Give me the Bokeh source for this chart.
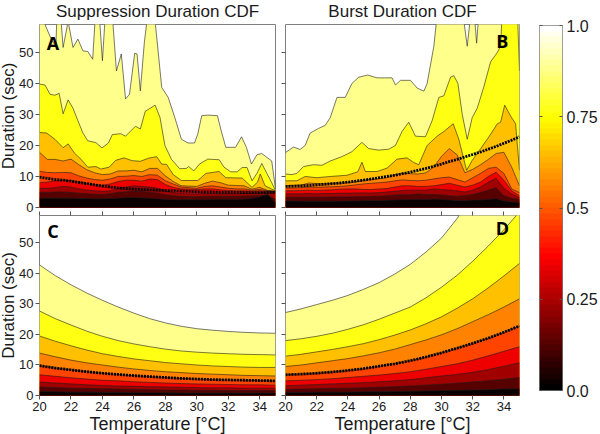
from bokeh.plotting import figure
from bokeh.layouts import row, column
from bokeh.models import Range1d, LinearAxis, FixedTicker, Label, LinearColorMapper, CustomLabelingPolicy
from bokeh.embed import file_html
from bokeh.resources import INLINE
import numpy as np

FONT = "Liberation Sans"
TEMP_TICKS = [20, 22, 24, 26, 28, 30, 32, 34]
DUR_TICKS = [0, 10, 20, 30, 40, 50]
BAR_TICKS = [0.0, 0.25, 0.5, 0.75, 1.0]
BAR_LABELS = {0.0: "0.0", 0.25: "0.25", 0.5: "0.5", 0.75: "0.75", 1.0: "1.0"}

# colours from the highest band to the lowest
BAND_COLORS = ["#ffff8c", "#ffff14", "#ffc000", "#ff8200", "#ff4400",
               "#ee0000", "#a00000", "#560000", "#0a0000"]

T_HALF = [20.0, 20.5, 21.0, 21.5, 22.0, 22.5, 23.0, 23.5, 24.0, 24.5, 25.0, 25.5, 26.0, 26.5, 27.0, 27.5,
          28.0, 28.5, 29.0, 29.5, 30.0, 30.5, 31.0, 31.5, 32.0, 32.5, 33.0, 33.5, 34.0, 34.5, 35.0]
T_WHOLE = [20, 21, 22, 23, 24, 25, 26, 27, 28, 29, 30, 31, 32, 33, 34, 35]

# ---- Panel A: suppression duration, measured
A9_T = [20.0, 20.35, 20.77, 21.04, 21.13, 21.3, 21.5, 21.82, 22.13, 22.44, 22.76, 23.07, 23.38, 23.55, 23.8, 24.0,
        24.18, 24.63, 24.89, 25.2, 25.47, 25.72, 26.05, 26.2, 26.41, 26.66, 26.87, 27.31, 27.77, 28.18, 28.6, 29.02,
        29.44, 29.85, 30.06, 30.31, 30.69, 31.31, 31.52, 31.84, 32.46, 32.84, 33.15, 33.47, 33.82, 34.13, 34.76, 35.0]
A9_V = [66, 59, 54, 52, 65, 65, 51.6, 60, 51.6, 54.3, 50.5, 50.3, 47.8, 62, 62, 47.3,
        62, 62, 44, 49.5, 35, 36.5, 49.7, 49.5, 37.6, 53, 62, 62, 38.7, 35.5, 29, 22,
        20.8, 20.8, 23.7, 29.6, 29.8, 29.6, 25.3, 19.4, 19.4, 22.8, 19.4, 14, 17, 17.4, 15, 6]
A8_T = [20.0, 20.35, 20.67, 20.98, 21.25, 21.5, 21.82, 22.13, 22.44, 22.76, 23.07, 23.59, 23.97, 24.38, 24.63, 25.16,
        25.47, 26.1, 26.41, 26.72, 27.35, 27.66, 27.97, 28.39, 28.91, 29.33, 29.48, 29.81, 30.17, 30.69, 31.42, 31.73,
        32.15, 32.57, 32.88, 33.19, 33.51, 33.82, 34.13, 34.45, 34.76, 35.0]
A8_V = [39.8, 39.5, 36.5, 36.2, 36.8, 30.2, 34.7, 32, 28, 24, 21.5, 20.9, 19.2, 20.8, 23.5, 23.8,
        23, 26.2, 25.3, 31, 33, 29, 20, 15.5, 12.5, 12.6, 13.2, 11.8, 14, 15.6, 15.4, 13,
        11.5, 11.5, 12.9, 12.9, 8.6, 11, 14.2, 11, 8, 5.5]
A7_T = [20.0, 20.46, 20.98, 21.5, 21.82, 22.23, 22.65, 23.07, 23.59, 23.9, 24.43, 24.84, 25.37, 25.89, 26.41, 26.93,
        27.45, 27.77, 28.08, 28.5, 29.02, 30.06, 30.58, 31.42, 31.84, 32.88, 33.51, 33.86, 34.03, 34.34, 35.0]
A7_V = [24.2, 24, 22, 19.3, 20.5, 17.5, 15.5, 13, 13.2, 12.4, 13, 15.2, 16, 15.1, 14.9, 15.9,
        16.4, 14, 13.9, 10.6, 8.7, 8.7, 11, 11.6, 9.6, 9.5, 6.5, 8.2, 10.8, 7, 5.4]
A6_V = [17.8, 15.5, 15.5, 15, 15.6, 13.8, 12.2, 11.2, 10.6, 10.8, 11.8, 11.8, 12, 11.5, 12.6, 12.6,
        10.2, 8.4, 7, 6.9, 6.8, 7.8, 8.5, 8, 7.2, 7.1, 7, 5.9, 6.5, 5.5, 5.3]
A5_V = [11.7, 11.3, 11.2, 11.3, 11.2, 10.2, 9.5, 9, 8.8, 9.2, 10, 10.1, 10.3, 10, 10.6, 10.4,
        8.6, 7.6, 6.6, 6.4, 6.2, 6.8, 7, 6.6, 6.2, 6, 6, 5.6, 5.8, 5.4, 5.2]
A4_V = [8, 8.2, 8.6, 8.8, 8.6, 8.2, 7.7, 7.4, 7.2, 7.6, 8.4, 8.8, 8.8, 8.5, 9.2, 9,
        7.4, 6.5, 6, 5.9, 5.8, 6, 6, 5.7, 5.5, 5.4, 5.4, 5.3, 5.4, 5.2, 5.1]
A3_V = [6.2, 6.2, 6.4, 6.8, 6.6, 6, 5.6, 5.4, 5.2, 5.4, 6.2, 6.6, 7, 6.8, 6.6, 6.2,
        5.3, 4.8, 4.5, 4.4, 4.4, 4.5, 4.5, 4.4, 4.4, 4.4, 4.5, 4.6, 4.7, 5, 5]
A2_V = [4.8, 4.8, 5, 5, 4.9, 4.6, 4.4, 4.3, 4.2, 4.4, 4.9, 5.1, 5.2, 5.2, 4.9, 4.6,
        4.1, 3.8, 3.6, 3.5, 3.5, 3.6, 3.6, 3.6, 3.6, 3.6, 3.7, 3.8, 3.9, 4, 2.6]
A1_V = [3, 3, 3, 3, 3, 2.9, 2.9, 2.8, 2.8, 2.9, 3, 3.2, 3.2, 3.1, 3, 2.8,
        2.6, 2.5, 2.5, 2.5, 2.5, 2.5, 2.6, 2.6, 2.6, 2.6, 2.7, 2.9, 3.4, 4.3, 1.5]
SUPP_MEDIAN = [9.8, 9.4, 9.0, 8.8, 8.5, 8.1, 7.7, 7.3, 6.9, 6.6, 6.3, 6.1, 5.9, 5.8, 5.7, 5.6,
               5.5, 5.4, 5.3, 5.2, 5.1, 5.0, 5.0, 4.9, 4.9, 4.9, 4.8, 4.8, 4.8, 4.8, 4.8]

# ---- Panel B: burst duration, measured
B9_T = [20.0, 20.51, 20.94, 21.26, 21.58, 22.12, 22.55, 22.87, 23.3, 23.83, 24.26, 24.69, 25.27, 25.87, 26.83, 27.05,
        27.37, 28.01, 28.44, 28.87, 29.08, 29.51, 29.76, 31.33, 31.65, 31.91, 32.08, 32.25, 32.42, 35.0]
B9_V = [17.7, 19.5, 18.7, 20, 24, 25.5, 26.5, 29, 35.5, 35.5, 40, 42, 42.7, 41.8, 41.8, 39.5,
        41, 41, 38.5, 37.5, 40, 52, 64, 64, 52, 64, 64, 53, 64, 64]
B8_T = [20.0, 20.41, 20.73, 21.16, 21.8, 22.33, 22.87, 23.62, 24.26, 24.9, 25.33, 25.97, 26.62, 27.05, 27.47, 27.9,
        28.33, 28.97, 29.4, 29.83, 30.15, 30.58, 30.79, 31.05, 31.33, 31.65, 31.97, 32.29, 32.72, 33.15, 33.58, 33.79,
        33.9, 34.86, 35.0]
B8_V = [10.8, 10.6, 11, 13.2, 13.8, 13.6, 15, 16.4, 18, 21, 19, 18.5, 18.8, 20, 24.5, 27.5,
        23, 22.8, 28, 35.5, 36, 42, 42.5, 40, 30, 22, 29, 32, 39, 47, 50, 52,
        64, 64, 44]
B7_T = [20.0, 20.73, 21.26, 22.01, 22.87, 23.94, 24.63, 24.9, 25.12, 25.87, 26.51, 27.15, 27.79, 28.22, 28.54, 29.08,
        29.72, 30.15, 30.75, 31.11, 31.61, 31.97, 32.51, 33.04, 33.58, 33.79, 34.05, 34.43, 34.75, 35.0]
B7_V = [8.6, 8.6, 10, 9.6, 10, 10.4, 11.5, 14.6, 11.6, 11.6, 12.7, 15.6, 16, 14.5, 13.8, 20,
        23, 24.5, 27, 22, 12, 15.2, 19, 22.8, 27, 27.5, 33, 29.5, 27, 12]
B6_V = [7, 7.1, 7.2, 7.9, 7.7, 7.6, 7.8, 7.9, 8, 8.3, 8.8, 9.1, 9.3, 9.6, 10.5, 11,
        10.9, 10.8, 11.2, 13, 16.5, 19, 17, 11.2, 12.3, 13.8, 15.5, 17.4, 17.8, 13, 7]
B5_V = [6.3, 6.3, 6.4, 6.6, 6.5, 6.6, 6.7, 6.8, 7, 7.3, 7.6, 7.8, 8, 8.2, 8.6, 8.9,
        8.7, 8.6, 8.8, 9.2, 9.6, 9.8, 9, 8.2, 9.6, 11, 12.6, 13, 11, 6, 4.8]
B4_V = [5.4, 5.4, 5.5, 5.6, 5.5, 5.6, 5.7, 5.9, 6, 6, 5.8, 5.8, 6, 6.1, 6.6, 7,
        7, 6.8, 6.8, 7, 7.4, 7.8, 7.2, 6.6, 7.2, 8.2, 10, 11.4, 8.8, 5.4, 3.8]
B3_V = [4.4, 4.4, 4.4, 4.5, 4.4, 4.5, 4.5, 4.6, 4.6, 4.7, 4.7, 4.7, 4.8, 5, 5.2, 5.5,
        5.6, 5.6, 5.6, 6, 5.8, 5.6, 5.4, 5, 5.6, 6.6, 8.2, 9.4, 6.2, 4.4, 3.2]
B2_V = [3.3, 3.3, 3.3, 3.3, 3.3, 3.3, 3.4, 3.4, 3.4, 3.5, 3.5, 3.6, 3.6, 3.8, 4, 4.1,
        4.1, 4.4, 4.2, 4.2, 4, 3.8, 3.6, 3.8, 4.2, 4.8, 5.6, 6.4, 3.8, 3, 2.6]
B1_V = [2.1, 2.1, 2, 2, 2, 2, 2, 2, 2.1, 2.1, 2.2, 2.2, 2.2, 2.3, 2.4, 2.5,
        2.5, 2.6, 2.5, 2.7, 2.6, 2.4, 2.2, 2.2, 2.4, 2.4, 2.6, 2.8, 2.1, 1.8, 1.6]
BURST_MEDIAN = [6.8, 6.9, 7, 7.1, 7.3, 7.5, 7.7, 7.9, 8.2, 8.5, 8.8, 9.2, 9.6, 10, 10.4, 10.9,
                11.4, 12, 12.6, 13.3, 14, 14.8, 15.5, 16.3, 17.1, 17.9, 18.8, 19.7, 20.7, 21.7, 22.8]

# ---- Panel C: suppression duration, model
C9_V = [42.8, 39.3, 36.3, 33.6, 31.2, 29, 27, 25.2, 23.8, 22.7, 21.9, 21.4, 21, 20.7, 20.5, 20.4]
C8_V = [27.7, 25.2, 23.1, 21.1, 19.4, 18, 16.9, 16, 15.2, 14.6, 14.2, 13.9, 13.7, 13.5, 13.4, 13.3]
C7_V = [19.5, 17.8, 16.3, 14.9, 13.7, 12.8, 12, 11.4, 10.8, 10.4, 10, 9.7, 9.5, 9.3, 9.2, 9.2]
C6_V = [13.9, 12.7, 11.6, 10.7, 10, 9.3, 8.7, 8.2, 7.8, 7.5, 7.2, 7, 6.8, 6.6, 6.5, 6.4]
C5_V = [9.8, 9, 8.4, 7.8, 7.3, 6.9, 6.5, 6.2, 5.9, 5.6, 5.4, 5.2, 5.1, 5, 4.9, 4.8]
C4_V = [6.8, 6.3, 5.8, 5.4, 5, 4.8, 4.5, 4.3, 4.1, 3.9, 3.8, 3.7, 3.6, 3.5, 3.5, 3.4]
C3_V = [4.4, 4.1, 3.8, 3.5, 3.3, 3.1, 3, 2.9, 2.8, 2.7, 2.6, 2.5, 2.5, 2.4, 2.4, 2.4]
C2_V = [2.8, 2.6, 2.4, 2.3, 2.2, 2.1, 2, 1.9, 1.8, 1.8, 1.7, 1.7, 1.6, 1.6, 1.6, 1.6]
C1_V = [1.3, 1.2, 1.1, 1.1, 1, 1, 0.9, 0.9, 0.9, 0.8, 0.8, 0.8, 0.8, 0.8, 0.8, 0.8]

# ---- Panel D: burst duration, model
D9_V = [27.2, 28.4, 29.8, 31.2, 32.8, 34.8, 37, 39.8, 43, 47, 51.6, 58, 66, 74, 84, 95]
D8_V = [18, 18.6, 19.4, 20.4, 21.7, 23.2, 25, 27, 29, 32, 35.5, 39.4, 44, 49, 54.3, 60.2]
D7_V = [12.9, 13.5, 14.3, 15.1, 16, 17, 18.3, 19.8, 21.5, 23.5, 25.8, 28.6, 31.7, 35.3, 39.2, 43.3]
D6_V = [9.5, 10, 10.7, 11.4, 12.1, 13, 14, 15.2, 16.7, 18.2, 19.9, 21.9, 24.2, 26.5, 29, 31.7]
D5_V = [6.8, 7, 7.3, 7.7, 8.2, 8.8, 9.6, 10.4, 11.4, 12.6, 14, 15.5, 17.1, 18.8, 20.7, 22.8]
D4_V = [4.8, 5, 5.2, 5.5, 5.9, 6.3, 6.7, 7.2, 7.8, 8.6, 9.5, 10.4, 11.6, 13, 14.5, 16]
D3_V = [3.2, 3.4, 3.6, 3.8, 4, 4.2, 4.5, 4.8, 5.2, 5.8, 6.4, 6.9, 7.6, 8.5, 9.6, 10.7]
D2_V = [2, 2.1, 2.2, 2.3, 2.4, 2.5, 2.7, 2.9, 3.1, 3.4, 3.7, 4, 4.4, 4.8, 5.3, 5.9]
D1_V = [1, 1, 1.1, 1.1, 1.1, 1.2, 1.2, 1.3, 1.4, 1.5, 1.6, 1.7, 1.8, 1.9, 2.1, 2.2]

# colour bar ramp stops
BAR_STOP_POS = [0.0, 0.365, 0.75, 1.0]
BAR_STOP_R = [0, 255, 255, 255]
BAR_STOP_G = [0, 0, 255, 255]
BAR_STOP_B = [0, 0, 0, 255]

PANEL_A = [(A9_T, A9_V), (A8_T, A8_V), (A7_T, A7_V), (T_HALF, A6_V), (T_HALF, A5_V),
           (T_HALF, A4_V), (T_HALF, A3_V), (T_HALF, A2_V), (T_HALF, A1_V)]
PANEL_B = [(B9_T, B9_V), (B8_T, B8_V), (B7_T, B7_V), (T_HALF, B6_V), (T_HALF, B5_V),
           (T_HALF, B4_V), (T_HALF, B3_V), (T_HALF, B2_V), (T_HALF, B1_V)]
PANEL_C = [(T_WHOLE, v) for v in (C9_V, C8_V, C7_V, C6_V, C5_V, C4_V, C3_V, C2_V, C1_V)]
PANEL_D = [(T_WHOLE, v) for v in (D9_V, D8_V, D7_V, D6_V, D5_V, D4_V, D3_V, D2_V, D1_V)]

GRAY = "#7f7f7f"
INK = "#1a1a1a"
NO_LABELS = "for (const i of indices) { if (i < 0) yield i }"


def style_axis(ax, labelled=True, size="13px"):
    ax.axis_line_color = None
    ax.major_tick_in = 0
    ax.major_tick_out = 4
    ax.major_tick_line_color = "#555555"
    ax.major_tick_line_width = 1
    ax.minor_tick_line_color = None
    ax.major_label_text_font = FONT
    ax.major_label_text_color = INK
    if labelled:
        ax.major_label_text_font_size = size
        ax.major_label_standoff = 2
    else:
        ax.major_label_text_font_size = "1px"
        ax.major_label_standoff = 0
        ax.major_label_policy = CustomLabelingPolicy(code=NO_LABELS)


def panel(levels, median_t, median_v, letter, letter_t, letter_v, left_border, width, height,
          top, bottom, right, title=None, ylabel=False, xlabel=False, top_ticks=False, margin=(0, 0, 0, 0)):
    p = figure(width=width, height=height, output_backend="svg", toolbar_location=None,
               x_range=Range1d(20, 35), y_range=Range1d(0, 59),
               x_axis_location="below" if xlabel else None,
               min_border_left=left_border, min_border_right=right,
               min_border_top=top, min_border_bottom=bottom, margin=margin,
               border_fill_color=None, background_fill_color="white",
               outline_line_color=GRAY, outline_line_width=1)
    p.grid.visible = False
    if title:
        p.title.text = title
        p.title.align = "center"
        p.title.text_font = FONT
        p.title.text_font_style = "normal"
        p.title.text_font_size = "17px"
        p.title.text_color = INK
        p.title.standoff = 8
    for (t, v), c in zip(levels, BAND_COLORS):
        p.varea(x=t, y1=-2, y2=v, fill_color=c)
    for t, v in levels:
        p.line(x=t, y=v, line_color="#1c1c1c", line_width=0.7, line_alpha=0.85)
    p.line(x=median_t, y=median_v, line_color="#000000", line_width=2.8, line_dash="2 1")
    p.add_layout(Label(x=letter_t, y=letter_v, text=letter, text_font="Open Sans",
                       text_font_style="bold", text_font_size="18px", text_color="#000000",
                       text_align="center", text_baseline="middle"))
    yax = p.yaxis[0]
    yax.ticker = FixedTicker(ticks=DUR_TICKS)
    style_axis(yax, labelled=ylabel)
    if ylabel:
        yax.axis_label = "Duration (sec)"
        yax.axis_label_text_font = FONT
        yax.axis_label_text_font_style = "normal"
        yax.axis_label_text_font_size = "17px"
        yax.axis_label_text_color = INK
        yax.axis_label_standoff = -2
    if xlabel:
        xax = p.xaxis[0]
        xax.ticker = FixedTicker(ticks=TEMP_TICKS)
        style_axis(xax)
        xax.axis_label = "Temperature [\u00b0C]"
        xax.axis_label_text_font = FONT
        xax.axis_label_text_font_style = "normal"
        xax.axis_label_text_font_size = "18px"
        xax.axis_label_text_color = INK
        xax.axis_label_standoff = 0
    if top_ticks:
        ax = LinearAxis(ticker=FixedTicker(ticks=TEMP_TICKS))
        style_axis(ax, labelled=False)
        p.add_layout(ax, "above")
    return p


pa = panel(PANEL_A, T_HALF, SUPP_MEDIAN, "A", 20.85, 53.0, 43, 285, 221, 30, 8, 2,
           title="Suppression Duration CDF", ylabel=True, margin=(-6, 0, 0, -4))
pb = panel(PANEL_B, T_HALF, BURST_MEDIAN, "B", 33.9, 53.8, 17, 252, 221, 30, 8, 1,
           title="Burst Duration CDF", margin=(-6, 0, 0, 0))
pc = panel(PANEL_C, T_WHOLE, C5_V, "C", 20.85, 54.0, 43, 285, 231, 5, 43, 2,
           ylabel=True, xlabel=True, top_ticks=True, margin=(-8, 0, -4, -4))
pd = panel(PANEL_D, T_WHOLE, D5_V, "D", 33.9, 55.0, 17, 252, 231, 5, 43, 1,
           xlabel=True, top_ticks=True, margin=(-8, 0, -4, 0))

# colour bar
bar = figure(width=80, height=434, output_backend="svg", toolbar_location=None,
             x_range=Range1d(0, 1), y_range=Range1d(0, 1),
             x_axis_location=None, y_axis_location="right",
             min_border_left=19, min_border_right=37, min_border_top=25, min_border_bottom=44,
             border_fill_color=None, outline_line_color=GRAY, outline_line_width=1)
bar.grid.visible = False
pos = np.linspace(0, 1, 64)
palette = ["#%02x%02x%02x" % (int(np.interp(q, BAR_STOP_POS, BAR_STOP_R)),
                              int(np.interp(q, BAR_STOP_POS, BAR_STOP_G)),
                              int(np.interp(q, BAR_STOP_POS, BAR_STOP_B))) for q in pos]
mapper = LinearColorMapper(palette=palette, low=0, high=1)
bar.image(image=[pos.reshape(-1, 1)], x=0, y=0, dw=1, dh=1, color_mapper=mapper)
rax = bar.yaxis[0]
rax.ticker = FixedTicker(ticks=BAR_TICKS)
rax.major_label_overrides = BAR_LABELS
style_axis(rax, size="16px")
rax.major_tick_in = 3
rax.major_tick_out = 0
rax.major_label_standoff = 4
lax = LinearAxis(ticker=FixedTicker(ticks=BAR_TICKS))
style_axis(lax, labelled=False)
lax.major_tick_in = 3
lax.major_tick_out = 0
bar.add_layout(lax, "left")

left_col = column(pa, pc, spacing=0)
right_col = column(pb, pd, spacing=0, margin=(0, 0, 0, -13))
root = row(left_col, right_col, bar, spacing=0)

open("out.html", "w").write(file_html(root, INLINE))
